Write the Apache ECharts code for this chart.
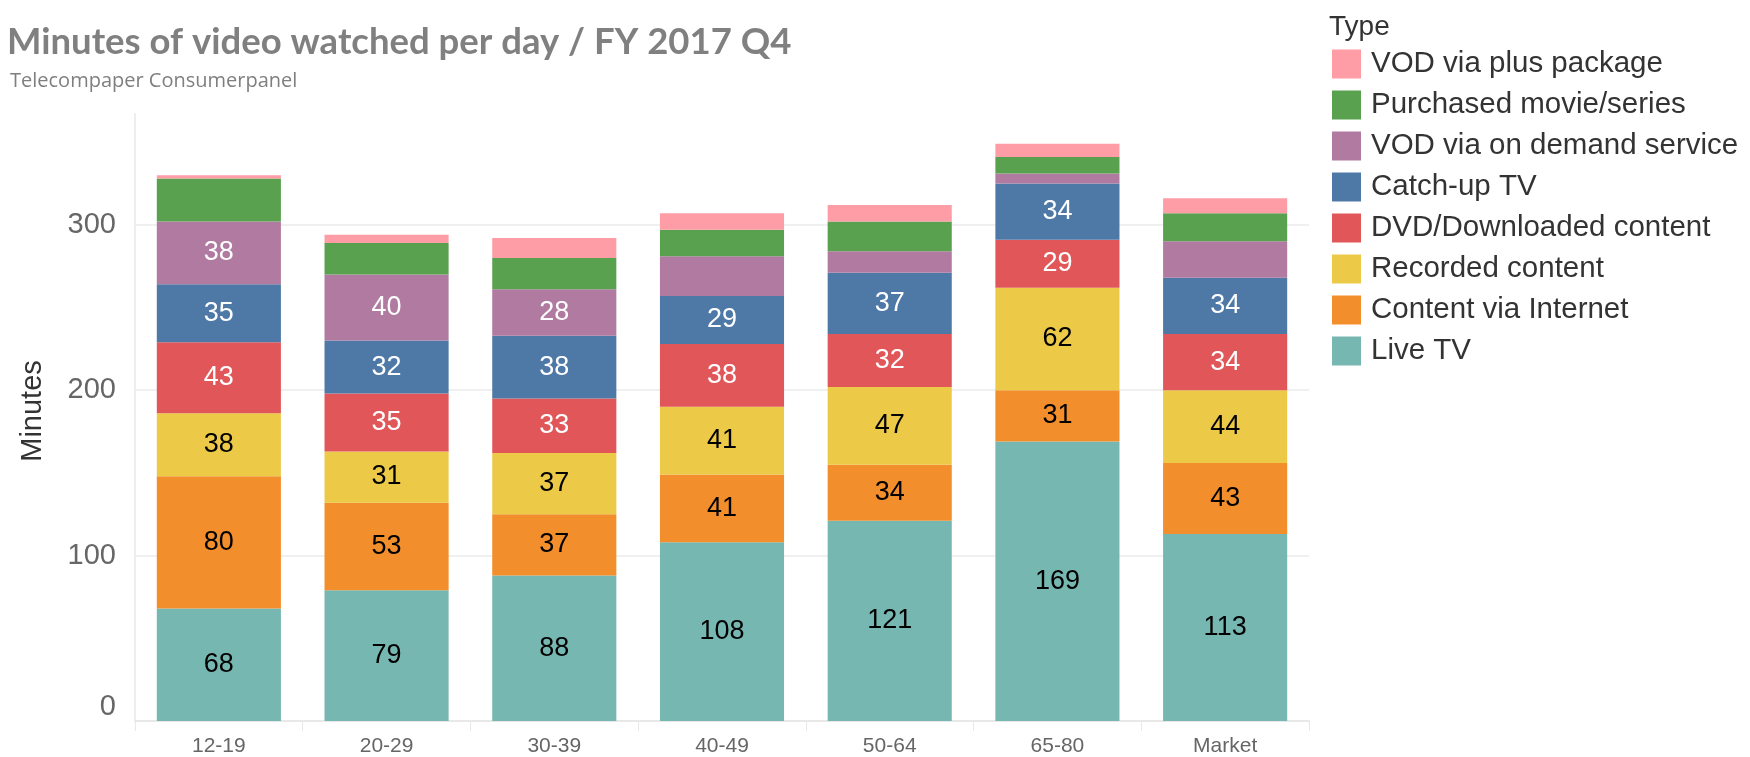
<!DOCTYPE html>
<html>
<head>
<meta charset="utf-8">
<script src="https://cdn.jsdelivr.net/npm/echarts@6/dist/echarts.min.js"></script>
<style>
  html, body { margin: 0; padding: 0; background: #fff; }
  #chart { width: 1750px; height: 757px; }
</style>
</head>
<body>
<div id="chart"></div>
<script>
// age groups on the x axis
const categories = ["12-19", "20-29", "30-39", "40-49", "50-64", "65-80", "Market"];

// minutes per day, bottom of the stack first
const liveTV = [68, 79, 88, 108, 121, 169, 113];
const contentInternet = [80, 53, 37, 41, 34, 31, 43];
const recorded = [38, 31, 37, 41, 47, 62, 44];
const dvdDownloaded = [43, 35, 33, 38, 32, 29, 34];
const catchUp = [35, 32, 38, 29, 37, 34, 34];
const vodOnDemand = [38, 40, 28, 24, 13, 6, 22];
const purchased = [26, 19, 19, 16, 18, 10, 17];
const vodPlus = [2, 5, 12, 10, 10, 8, 9];

const yTicks = [0, 100, 200, 300];

const baseFont = "'Liberation Sans', Arial, sans-serif";

// name, values, colour, label colour (null = no labels)
const stack = [
  ["Live TV", liveTV, "#76B7B2", "#000"],
  ["Content via Internet", contentInternet, "#F28E2B", "#000"],
  ["Recorded content", recorded, "#EDC948", "#000"],
  ["DVD/Downloaded content", dvdDownloaded, "#E15759", "#fff"],
  ["Catch-up TV", catchUp, "#4E79A7", "#fff"],
  ["VOD via on demand service", vodOnDemand, "#B07AA1", "#fff"],
  ["Purchased movie/series", purchased, "#59A14F", null],
  ["VOD via plus package", vodPlus, "#FF9DA7", null],
];

const series = stack.map(([name, values, color, labelColor]) => ({
  name: name,
  type: "bar",
  stack: "total",
  barCategoryGap: "26%",
  itemStyle: { color: color },
  emphasis: { disabled: true },
  label: {
    show: false,
    position: "inside",
    color: labelColor || "#000",
    fontFamily: baseFont,
    fontSize: 27,
  },
  // small segments stay unlabelled, like in the original
  data: values.map((v) => ({
    value: v,
    label: { show: labelColor !== null && v >= 25 },
  })),
}));

const chart = echarts.init(document.getElementById("chart"));

chart.setOption({
  animation: false,
  backgroundColor: "#fff",
  graphic: [
    {
      type: "text",
      left: 7,
      top: 24,
      style: {
        text: "Minutes of video watched per day / FY 2017 Q4",
        font: "bold 36.5px Lato, 'Open Sans', sans-serif",
        fill: "#808080",
      },
    },
    {
      type: "text",
      left: 10,
      top: 71,
      style: {
        text: "Telecompaper Consumerpanel",
        font: "20px 'Open Sans', sans-serif",
        fill: "#7f7f7f",
      },
    },
    {
      type: "text",
      left: 1329,
      top: 13,
      style: {
        text: "Type",
        font: "28px " + baseFont,
        fill: "#333",
      },
    },
  ],
  legend: {
    orient: "vertical",
    left: 1332,
    top: 49,
    padding: 0,
    itemWidth: 29,
    itemHeight: 29,
    itemGap: 11,
    icon: "rect",
    selectedMode: false,
    data: stack.map((s) => s[0]).reverse(),
    textStyle: {
      fontFamily: baseFont,
      fontSize: 29.5,
      color: "#333",
      lineHeight: 29,
      padding: [0, 0, 0, 5],
    },
  },
  grid: { left: 135, right: 441, top: 114, bottom: 36, containLabel: false },
  xAxis: {
    type: "category",
    data: categories,
    axisLine: { lineStyle: { color: "#e8e8e8", width: 2 } },
    axisTick: { show: true, length: 10, lineStyle: { color: "#e8e8e8", width: 1 } },
    axisLabel: { fontFamily: baseFont, fontSize: 21, color: "#666", margin: 15 },
  },
  yAxis: {
    type: "value",
    min: 0,
    max: 367,
    interval: 100,
    name: "Minutes",
    nameLocation: "middle",
    nameRotate: 90,
    nameGap: 88,
    nameTextStyle: { fontFamily: baseFont, fontSize: 29, color: "#333", padding: [0, 0, 0, 13] },
    axisLine: { show: true, lineStyle: { color: "#eeeeee", width: 2 } },
    axisTick: { show: false },
    splitLine: { showMaxLine: false, lineStyle: { color: "#f0f0f0", width: 2 } },
    axisLabel: {
      showMaxLabel: false,
      margin: 19,
      fontFamily: baseFont,
      fontSize: 29,
      color: "#666",
      formatter: (v) => {
        if (!yTicks.includes(v)) return "";
        return v === 0 ? "{z|0}" : String(v);
      },
      rich: {
        z: { fontFamily: baseFont, fontSize: 29, color: "#666", padding: [0, 0, 29, 0] },
      },
    },
  },
  series: series,
});
</script>
</body>
</html>
